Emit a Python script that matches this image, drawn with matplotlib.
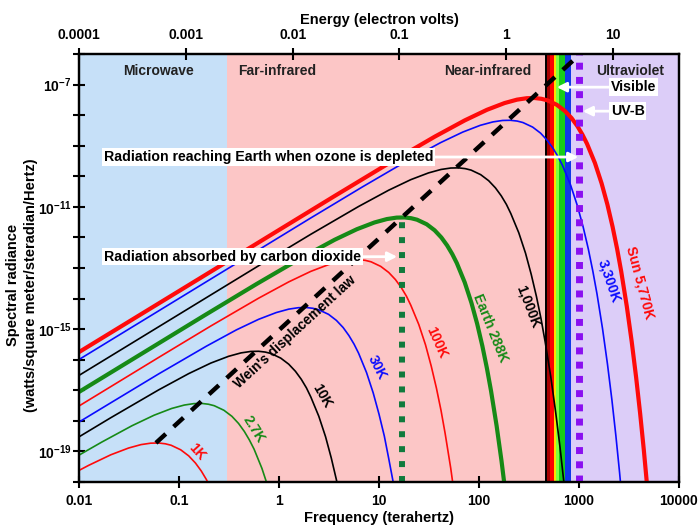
import numpy as np
import matplotlib
matplotlib.use('Agg')
import matplotlib.pyplot as plt
from matplotlib.ticker import FixedLocator, FixedFormatter, NullLocator

plt.rcParams['font.family'] = ['Liberation Sans', 'DejaVu Sans']
plt.rcParams['font.weight'] = 'bold'
plt.rcParams['mathtext.fontset'] = 'custom'
plt.rcParams['mathtext.rm'] = 'Liberation Sans:bold'
plt.rcParams['mathtext.bf'] = 'Liberation Sans:bold'
plt.rcParams['mathtext.it'] = 'Liberation Sans:bold'

# ---------------- data ----------------
# frequency in THz, radiance as log10(W/m^2/sr/Hz)
freq_1k = [0.01, 0.0125, 0.0208, 0.0313, 0.0417, 0.0521, 0.0625, 0.0729, 0.0834, 0.104, 0.125, 0.146, 0.167, 0.188, 0.208, 0.250]
logb_1k = [-19.621, -19.455, -19.110, -18.889, -18.777, -18.730, -18.724, -18.750, -18.798, -18.947, -19.145, -19.379, -19.640, -19.921, -20.218, -20.849]

freq_2k7 = [0.01, 0.0169, 0.0338, 0.0563, 0.0844, 0.113, 0.141, 0.169, 0.197, 0.225, 0.281, 0.338, 0.394, 0.450, 0.506, 0.563, 0.675, 0.788, 0.900]
logb_2k7 = [-19.121, -18.694, -18.161, -17.816, -17.595, -17.483, -17.436, -17.430, -17.456, -17.504, -17.653, -17.851, -18.085, -18.346, -18.627, -18.924, -19.555, -20.223, -20.917]

freq_10k = [0.01, 0.0208, 0.0625, 0.125, 0.208, 0.313, 0.417, 0.521, 0.625, 0.729, 0.834, 1.04, 1.25, 1.46, 1.67, 1.88, 2.08, 2.50, 2.92, 3.33, 3.75, 4.17]
logb_10k = [-18.523, -17.897, -16.988, -16.455, -16.110, -15.889, -15.777, -15.730, -15.724, -15.750, -15.798, -15.947, -16.145, -16.379, -16.640, -16.921, -17.218, -17.849, -18.517, -19.211, -19.927, -20.658]

freq_30k = [0.01, 0.0188, 0.0625, 0.188, 0.375, 0.625, 0.938, 1.25, 1.56, 1.88, 2.19, 2.50, 3.13, 3.75, 4.38, 5.00, 5.63, 6.25, 7.50, 8.75, 10.0, 11.3, 12.5, 13.8, 15.6]
logb_30k = [-18.039, -17.496, -16.466, -15.557, -15.024, -14.679, -14.458, -14.346, -14.299, -14.293, -14.319, -14.367, -14.516, -14.714, -14.948, -15.209, -15.490, -15.787, -16.418, -17.086, -17.780, -18.496, -19.227, -19.971, -21.108]

freq_100k = [0.01, 0.0625, 0.208, 0.625, 1.25, 2.08, 3.13, 4.17, 5.21, 6.25, 7.29, 8.34, 10.4, 12.5, 14.6, 16.7, 18.8, 20.8, 25.0, 29.2, 33.3, 37.5, 41.7, 45.8, 52.1, 58.3]
logb_100k = [-17.514, -15.927, -14.897, -13.988, -13.455, -13.110, -12.889, -12.777, -12.730, -12.724, -12.750, -12.798, -12.947, -13.145, -13.379, -13.640, -13.921, -14.218, -14.849, -15.517, -16.211, -16.927, -17.658, -18.402, -19.539, -20.694]

freq_earth = [0.01, 0.180, 0.600, 1.80, 3.60, 6.00, 9.00, 12.0, 15.0, 18.0, 21.0, 24.0, 30.0, 36.0, 42.0, 48.0, 54.0, 60.0, 72.0, 84.0, 96.0, 108, 120, 132, 150, 168, 186]
logb_earth = [-17.054, -14.549, -13.519, -12.610, -12.077, -11.732, -11.511, -11.399, -11.352, -11.346, -11.372, -11.420, -11.569, -11.767, -12.001, -12.262, -12.543, -12.840, -13.471, -14.139, -14.833, -15.549, -16.280, -17.024, -18.161, -19.316, -20.486]

freq_1000k = [0.01, 0.625, 2.08, 6.25, 12.5, 20.8, 31.3, 41.7, 52.1, 62.5, 72.9, 83.4, 104, 125, 146, 167, 188, 208, 250, 292, 333, 375, 417, 458, 521, 583, 646, 708, 771]
logb_1000k = [-16.513, -12.927, -11.897, -10.988, -10.455, -10.110, -9.889, -9.777, -9.730, -9.724, -9.750, -9.798, -9.947, -10.145, -10.379, -10.640, -10.921, -11.218, -11.849, -12.517, -13.211, -13.927, -14.658, -15.402, -16.539, -17.694, -18.864, -20.046, -21.239]

freq_3300k = [0.01, 2.06, 6.88, 20.6, 41.3, 68.8, 103, 138, 172, 206, 241, 275, 344, 413, 481, 550, 619, 688, 825, 963, 1100, 1238, 1375, 1513, 1719, 1925, 2132, 2338, 2544, 2751]
logb_3300k = [-15.994, -11.371, -10.341, -9.432, -8.899, -8.554, -8.333, -8.221, -8.174, -8.168, -8.194, -8.242, -8.391, -8.589, -8.823, -9.084, -9.365, -9.662, -10.293, -10.961, -11.655, -12.371, -13.102, -13.846, -14.983, -16.138, -17.308, -18.490, -19.683, -20.885]

freq_sun = [0.01, 3.61, 12.0, 36.1, 72.1, 120, 180, 240, 301, 361, 421, 481, 601, 721, 842, 962, 1082, 1202, 1443, 1683, 1924, 2164, 2405, 2645, 3006, 3366, 3727, 4088, 4449, 4809]
logb_sun = [-15.751, -10.643, -9.613, -8.704, -8.171, -7.826, -7.605, -7.493, -7.446, -7.440, -7.466, -7.514, -7.663, -7.861, -8.095, -8.356, -8.637, -8.934, -9.565, -10.233, -10.927, -11.643, -12.374, -13.118, -14.255, -15.410, -16.580, -17.762, -18.955, -20.157]

# Wien's displacement law line (THz, log10 radiance)
wien_freq = [0.0588, 1100]
wien_logb = [-18.722, -5.910]

# marker lines
co2_freq = 17.0
co2_logb = [-20.0, -11.35]
uvb_freq = 1000.0
uvb_logb = [-20.0, -6.0]

# spectral regions (THz)
region_edges = [0.01, 0.3, 455, 830, 10000]
region_colors = ['#c6e0f8', '#fcc6c6', None, '#dccdf8']
visible_edges = [455, 476, 512, 560, 590, 630, 720, 830]
visible_colors = ['#000000', '#a80000', '#ff0000', '#ffe000', '#80ff40', '#18cc18', '#1038e8']

energy_ticks = [0.0001, 0.001, 0.01, 0.1, 1, 10]
energy_labels = ['0.0001', '0.001', '0.01', '0.1', '1', '10']
freq_ticks = [0.01, 0.1, 1, 10, 100, 1000, 10000]
freq_labels = ['0.01', '0.1', '1', '10', '100', '1000', '10000']

RED = '#ff0a0a'
BLUE = '#0a0aff'
GREEN = '#168a16'
BLACK = '#000000'

curves = [
    (freq_1k, logb_1k, RED, 1.2),
    (freq_2k7, logb_2k7, GREEN, 1.2),
    (freq_10k, logb_10k, BLACK, 1.2),
    (freq_30k, logb_30k, BLUE, 1.2),
    (freq_100k, logb_100k, RED, 1.2),
    (freq_earth, logb_earth, GREEN, 3.0),
    (freq_1000k, logb_1000k, BLACK, 1.2),
    (freq_3300k, logb_3300k, BLUE, 1.2),
    (freq_sun, logb_sun, RED, 3.0),
]

# ---------------- figure ----------------
fig = plt.figure(figsize=(7.0, 5.26), dpi=100)
fig.subplots_adjust(left=79/700, right=679/700, bottom=44/526, top=472/526)
ax = fig.add_subplot(111)
ax.set_xscale('log')
ax.set_yscale('log')
ax.set_xlim(0.01, 10000)
ax.set_ylim(1e-20, 1e-6)

for lo, hi, c in zip(region_edges[:-1], region_edges[1:], region_colors):
    if c is not None:
        ax.axvspan(lo, hi, color=c, lw=0, zorder=0)
for lo, hi, c in zip(visible_edges[:-1], visible_edges[1:], visible_colors):
    ax.axvspan(lo, hi, color=c, lw=0, zorder=0.5)

for f, lb, c, lw in curves:
    ax.plot(f, 10.0 ** np.array(lb), color=c, lw=lw, zorder=3,
            solid_capstyle='butt', solid_joinstyle='round')

# dotted marker lines
ax.plot([co2_freq, co2_freq], 10.0 ** np.array(co2_logb), color='#117a3c', lw=4.3,
        linestyle=(0, (1, 1.5)), dash_capstyle='butt', zorder=5)
ax.plot([uvb_freq, uvb_freq], 10.0 ** np.array(uvb_logb), color='#8a10f0', lw=5.0,
        linestyle=(0, (1, 1.05)), dash_capstyle='butt', zorder=5)

# Wien's line
ax.plot(wien_freq, 10.0 ** np.array(wien_logb), color='black', lw=3.2,
        linestyle=(0, (3, 2.4)), dash_capstyle='butt', zorder=6)

# region labels
rl = dict(ha='center', va='center', fontsize=10, fontweight='bold', color='#222222', zorder=7)
ax.text(0.0617, 10**-6.56, 'Microwave', **rl)
ax.text(0.96, 10**-6.56, 'Far-infrared', **rl)
ax.text(123, 10**-6.56, 'Near-infrared', **rl)
ax.text(3236, 10**-6.56, 'Ultraviolet', **rl)

# annotations with white arrows
box = dict(boxstyle='square,pad=0.12', fc='white', ec='none')
arr = dict(arrowstyle='-|>', color='white', lw=2, shrinkA=0, shrinkB=0, mutation_scale=14)
ax.annotate('Radiation reaching Earth when ozone is depleted', xy=(985, 10**-9.37),
            xytext=(0.0178, 10**-9.37), ha='left', va='center', fontsize=10.2,
            fontweight='bold', bbox=box, arrowprops=arr, zorder=7)
ax.annotate('Radiation absorbed by carbon dioxide', xy=(15.2, 10**-12.63),
            xytext=(0.0178, 10**-12.63), ha='left', va='center', fontsize=10.2,
            fontweight='bold', bbox=box, arrowprops=arr, zorder=7)
ax.annotate('Visible', xy=(600, 10**-7.085), xytext=(2080, 10**-7.085), ha='left',
            va='center', fontsize=10.2, fontweight='bold', bbox=box, arrowprops=arr, zorder=7)
ax.annotate('UV-B', xy=(1090, 10**-7.87), xytext=(2080, 10**-7.87), ha='left',
            va='center', fontsize=10.2, fontweight='bold', bbox=box, arrowprops=arr, zorder=7)

# curve labels
def lab(x, y, s, c, rot):
    ax.text(x, 10**y, s, color=c, rotation=rot, ha='center', va='center',
            fontsize=10, fontweight='bold', zorder=7, rotation_mode='anchor')

lab(0.151, -19.03, '1K', RED, -48)
lab(0.562, -18.28, '2.7K', GREEN, -58)
lab(2.69, -17.20, '10K', BLACK, -60)
lab(9.55, -16.25, '30K', BLUE, -63)
lab(38.0, -15.44, '100K', RED, -66)
lab(129, -14.95, 'Earth 288K', GREEN, -68)
lab(309, -14.26, '1,000K', BLACK, -69)
lab(1995, -13.44, '3,300K', BLUE, -71)
lab(4074, -13.47, 'Sun 5,770K', RED, -75)
ax.text(1.445, 10**-15.08, "Wein's displacement law", rotation=42.5, ha='center', va='center',
        fontsize=9.8, fontweight='bold', color='black', zorder=7, rotation_mode='anchor')

# ticks and axes
ytick_exps = list(range(-20, -5))
ax.yaxis.set_major_locator(FixedLocator([10.0**e for e in ytick_exps]))
ax.yaxis.set_major_formatter(FixedFormatter(
    [r'$\mathbf{10^{%d}}$' % e if e in (-7, -11, -15, -19) else '' for e in ytick_exps]))
ax.yaxis.set_minor_locator(NullLocator())
ax.xaxis.set_major_locator(FixedLocator(freq_ticks))
ax.xaxis.set_major_formatter(FixedFormatter(freq_labels))
ax.xaxis.set_minor_locator(NullLocator())
ax.tick_params(axis='both', which='major', direction='inout', length=9, width=1.5,
               labelsize=10, pad=4)
ax.tick_params(axis='y', pad=1)
for s in ax.spines.values():
    s.set_linewidth(1.6)
for t in ax.get_xticklabels() + ax.get_yticklabels():
    t.set_fontweight('bold')

ax2 = ax.twiny()
ax2.set_xscale('log')
ax2.set_xlim(1e-4, 41.4)
ax2.xaxis.set_major_locator(FixedLocator(energy_ticks))
ax2.xaxis.set_major_formatter(FixedFormatter(energy_labels))
ax2.xaxis.set_minor_locator(NullLocator())
ax2.tick_params(axis='x', which='major', direction='inout', length=9, width=1.5,
                labelsize=10, pad=4)
for t in ax2.get_xticklabels():
    t.set_fontweight('bold')
for s in ax2.spines.values():
    s.set_linewidth(1.6)

ax.set_xlabel('Frequency (terahertz)', fontsize=10.5, fontweight='bold', labelpad=2)
ax2.set_xlabel('Energy (electron volts)', fontsize=10.5, fontweight='bold', labelpad=3)
fig.text(13/700, 1 - 285/526, 'Spectral radiance', rotation=90, ha='center', va='center',
         fontsize=10.5, fontweight='bold')
fig.text(31/700, 1 - 285/526, '(watts/square meter/steradian/Hertz)', rotation=90,
         ha='center', va='center', fontsize=10.5, fontweight='bold')

fig.savefig('out.png', dpi=100)
